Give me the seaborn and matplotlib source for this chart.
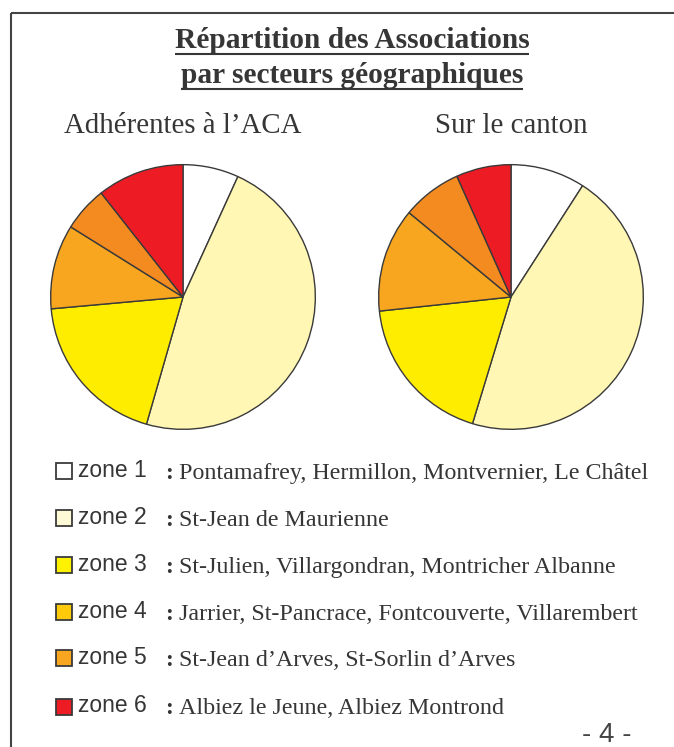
import matplotlib
matplotlib.use("Agg")
import matplotlib.pyplot as plt
from matplotlib.patches import Rectangle
import seaborn as sns

# Data: share of associations per zone (%)
zones = ["zone 1", "zone 2", "zone 3", "zone 4", "zone 5", "zone 6"]
aca_share = [6.8, 47.6, 19.1, 10.3, 5.5, 10.6]
canton_share = [9.1, 45.6, 18.6, 12.7, 7.3, 6.7]
communes = [
    "Pontamafrey, Hermillon, Montvernier, Le Châtel",
    "St-Jean de Maurienne",
    "St-Julien, Villargondran, Montricher Albanne",
    "Jarrier, St-Pancrace, Fontcouverte, Villarembert",
    "St-Jean d\u2019Arves, St-Sorlin d\u2019Arves",
    "Albiez le Jeune, Albiez Montrond",
]
pie_titles = ["Adhérentes à l\u2019ACA", "Sur le canton"]

pie_colors = sns.color_palette(["#FFFFFF", "#FFF7B3", "#FFED00", "#F8A51F", "#F38B21", "#ED1C24"])
legend_colors = sns.color_palette(["#FFFFFF", "#FFFAD6", "#FFF200", "#FFCB08", "#F8A51F", "#ED1C24"])

sns.set_theme(style="white")
plt.rcParams["font.family"] = ["Liberation Serif", "DejaVu Serif"]

W, H = 674, 747
fig = plt.figure(figsize=(W / 100, H / 100), dpi=100)
fig.patch.set_facecolor("white")

# overlay axes in pixel coordinates for text and frame
ov = fig.add_axes([0, 0, 1, 1])
ov.set_xlim(0, W)
ov.set_ylim(H, 0)
ov.axis("off")

ink = "#363636"
edge = "#3a3a3a"

# page frame (top + left)
ov.plot([11, W], [12.5, 12.5], color="#444444", lw=1.5, solid_capstyle="butt")
ov.plot([11, 11], [12.5, H], color="#444444", lw=1.5, solid_capstyle="butt")

# title
t1 = ov.text(352, 48.5, "Répartition des Associations", ha="center", va="baseline",
             fontsize=21.2, fontweight="bold", color=ink)
t2 = ov.text(352, 83, "par secteurs géographiques", ha="center", va="baseline",
             fontsize=21.2, fontweight="bold", color=ink)

# pies
centers = [(183, 297), (511, 297)]
r = 133
for (cx, cy), vals, ttl in zip(centers, [aca_share, canton_share], pie_titles):
    ax = fig.add_axes([(cx - r) / W, 1 - (cy + r) / H, 2 * r / W, 2 * r / H])
    ax.pie(vals, colors=pie_colors, startangle=90, counterclock=False,
           wedgeprops=dict(edgecolor=edge, linewidth=1.0))
    ax.set_xlim(-1.005, 1.005)
    ax.set_ylim(-1.005, 1.005)
    ov.text(cx, 133, ttl, ha="center", va="baseline", fontsize=20.8, color=ink)

# legend
row_y = [471, 518, 565, 611.5, 658, 706.5]
for z, c, txt, y in zip(zones, legend_colors, communes, row_y):
    ov.add_patch(Rectangle((55.5, y - 8), 16, 16, facecolor=c, edgecolor=edge, lw=1.3))
    ov.text(78, y + 6, z, ha="left", va="baseline", fontsize=16.5, color=ink,
            family=["Liberation Sans", "DejaVu Sans"])
    ov.text(165, y + 8, ":", ha="left", va="baseline", fontsize=17,
            fontweight="bold", color=ink)
    ov.text(179, y + 8, txt, ha="left", va="baseline", fontsize=17.3, color=ink)

ov.text(607, 742, "- 4 -", ha="center", va="baseline", fontsize=20, color="#444444",
        family=["Liberation Sans", "DejaVu Sans"])

# underline the title lines
fig.canvas.draw()
inv = ov.transData.inverted()
for t, y in [(t1, 54), (t2, 88.5)]:
    bb = t.get_window_extent()
    x0 = inv.transform((bb.x0, bb.y0))[0]
    x1 = inv.transform((bb.x1, bb.y0))[0]
    ov.plot([x0, x1], [y, y], color=ink, lw=1.5, solid_capstyle="butt")

fig.savefig("out.png", dpi=100)
